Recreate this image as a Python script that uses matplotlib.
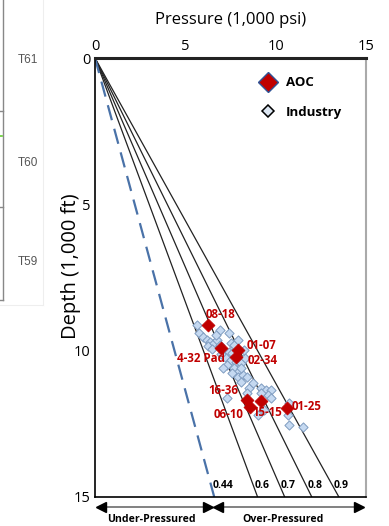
import matplotlib
matplotlib.use("Agg")
import matplotlib.pyplot as plt
from matplotlib.lines import Line2D
import numpy as np

plt.rcParams['font.family'] = ['Open Sans', 'DejaVu Sans']

# gradients (psi/ft)
gradients = [0.6, 0.7, 0.8, 0.9]
hydro_gradient = 0.44
grad_labels = ["0.44", "0.6", "0.7", "0.8", "0.9"]

# AOC wells: pressure (1,000 psi), depth (1,000 ft)
aoc_names = ["08-18", "4-32 Pad", "01-07", "02-34", "16-36", "06-10", "15-15", "01-25"]
aoc_x = [6.28, 7.0, 7.9, 7.83, 8.39, 8.56, 9.17, 10.61]
aoc_y = [9.12, 9.91, 9.98, 10.2, 11.68, 11.92, 11.72, 11.96]

# Industry data
ind_x = [5.67, 5.78, 6.0, 6.22, 6.39, 6.28, 6.56, 6.78, 6.94, 7.39, 7.5, 7.67, 7.89,
         7.11, 7.39, 7.61, 7.22, 7.5, 7.78, 8.06, 8.33, 7.33, 7.67, 7.89, 7.61, 7.89,
         8.17, 8.44, 8.06, 8.5, 9.17, 9.44, 9.72, 9.56, 9.72, 8.44, 7.33, 9.17, 10.72,
         9.0, 10.67, 10.72, 11.5, 6.94, 6.67, 8.22, 7.06, 8.72, 9.33, 8.1, 7.0, 6.5]
ind_y = [9.12, 9.40, 9.53, 9.63, 9.70, 9.84, 9.74, 9.63, 9.81, 9.40, 9.74, 9.81, 9.63,
         9.98, 10.04, 10.08, 10.22, 10.32, 10.39, 10.42, 10.25, 10.49, 10.59, 10.73, 10.76, 10.90,
         10.83, 10.90, 11.07, 11.27, 11.27, 11.34, 11.34, 11.51, 11.62, 11.45, 11.62, 11.45, 11.79,
         12.2, 12.2, 12.54, 12.61, 9.29, 9.46, 9.98, 10.59, 11.1, 12.03, 10.6, 10.1, 9.95]

aoc_label_pos = {
    "08-18": (221, 315, 'center'),
    "4-32 Pad": (225, 358, 'right'),
    "01-07": (247, 345, 'left'),
    "02-34": (248, 361, 'left'),
    "16-36": (238, 391, 'right'),
    "06-10": (243, 415, 'right'),
    "15-15": (252, 413, 'left'),
    "01-25": (292, 407, 'left'),
}

W, H = 389, 526
fig = plt.figure(figsize=(W / 100, H / 100), dpi=100)
ax = fig.add_axes([95 / W, 1 - 497 / H, (366 - 95) / W, (497 - 58) / H])

ax.set_xlim(0, 15)
ax.set_ylim(15, 0)

depth = np.array([0, 15])
for g in gradients:
    ax.plot(depth * g, depth, color='#222222', lw=0.9, zorder=2)
ax.plot(depth * hydro_gradient, depth, color='#4a72a8', lw=1.6, dashes=(7, 4), zorder=2)

ax.scatter(ind_x, ind_y, marker='D', s=22, facecolor='#c5d9f1', edgecolor='#7f9cc0', lw=0.7, zorder=3)
ax.scatter(aoc_x, aoc_y, marker='D', s=44, facecolor='#c00000', edgecolor='#c00000', lw=0.5, zorder=4)

def px2data(px, py):
    return (px - 95) / (271 / 15.0), (py - 58) / (439 / 15.0)

for name in aoc_names:
    px, py, ha = aoc_label_pos[name]
    xd, yd = px2data(px, py)
    ax.text(xd, yd, name, color='#c00000', fontsize=8.3, fontweight='bold', ha=ha, va='center', zorder=5)

# gradient labels
all_g = [hydro_gradient] + gradients
for g, lab in zip(all_g, grad_labels):
    ax.text(g * 14.59 + 0.08, 14.59, lab, fontsize=7.5, fontweight='bold', ha='left', va='center')

ax.xaxis.tick_top()
ax.xaxis.set_label_position('top')
ax.set_xticks([0, 5, 10, 15])
ax.set_yticks([0, 5, 10, 15])
ax.tick_params(length=0, labelsize=10.5, pad=3)
ax.set_xlabel("Pressure (1,000 psi)", fontsize=12, labelpad=11)
ax.set_ylabel("Depth (1,000 ft)", fontsize=14.5, va='center')
ax.yaxis.set_label_coords((71 - 95) / 271, (497 - 266) / 439)

for s in ['left', 'bottom']:
    ax.spines[s].set_color('black')
    ax.spines[s].set_linewidth(1.2)
ax.spines['top'].set_color('#222222')
ax.spines['top'].set_linewidth(2.2)
ax.spines['right'].set_color('#aaaaaa')
ax.spines['right'].set_linewidth(1.5)

handles = [
    Line2D([], [], marker='D', ls='none', markersize=10, markerfacecolor='#c00000', markeredgecolor='#2f5597', markeredgewidth=1),
    Line2D([], [], marker='D', ls='none', markersize=6, markerfacecolor='#dce6f2', markeredgecolor='black', markeredgewidth=1.1),
]
leg = ax.legend(handles, ["AOC", "Industry"], loc='upper right', bbox_to_anchor=(0.93, 0.97),
                borderaxespad=0, frameon=False, prop={'weight': 'bold', 'size': 9.5},
                handletextpad=0.6, labelspacing=1.25, handlelength=1.5)

# arrows below the axes
def fx(px):
    return px / W
def fy(py):
    return 1 - py / H

ya = fy(507)
for x0, x1 in [(97, 212), (214, 363)]:
    fig.add_artist(Line2D([fx(x0 + 6), fx(x1 - 6)], [ya, ya], color='#777777', lw=1.3))
    fig.add_artist(Line2D([fx(x0 + 4)], [ya], marker='<', color='black', markersize=7, ls='none'))
    fig.add_artist(Line2D([fx(x1 - 4)], [ya], marker='>', color='black', markersize=7, ls='none'))
fig.text(fx(151), fy(519), "Under-Pressured", fontsize=7.6, fontweight='bold', ha='center', va='center')
fig.text(fx(283), fy(519), "Over-Pressured", fontsize=7.6, fontweight='bold', ha='center', va='center')

# partial neighbouring panel at left
fig.add_artist(Line2D([fx(3), fx(3)], [fy(0), fy(300)], color='#888888', lw=1.0))
for yy in [111, 207, 300]:
    fig.add_artist(Line2D([fx(0), fx(3)], [fy(yy), fy(yy)], color='#888888', lw=1.0))
fig.add_artist(Line2D([fx(0), fx(2)], [fy(136), fy(136)], color='#66cc33', lw=1.2))
fig.add_artist(Line2D([fx(43), fx(43)], [fy(0), fy(305)], color='#eeeeee', lw=0.8))
fig.add_artist(Line2D([fx(0), fx(43)], [fy(305), fy(305)], color='#eeeeee', lw=0.8))
for lab, yy in [("T61", 60), ("T60", 163), ("T59", 262)]:
    fig.text(fx(28), fy(yy), lab, fontsize=8.5, color='#555555', ha='center', va='center',
             family=['Liberation Sans', 'DejaVu Sans'])

fig.savefig("out.png", dpi=100)
